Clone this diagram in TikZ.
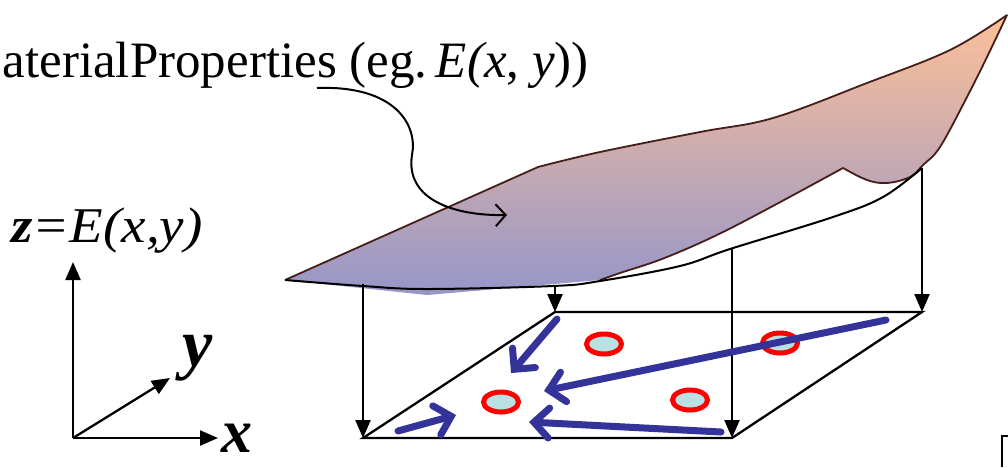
\documentclass[tikz,border=0pt]{standalone}
\usepackage{fontspec}
\setmainfont{Liberation Serif}
\usetikzlibrary{arrows.meta,shapes.geometric}
\definecolor{arrblue}{RGB}{51,51,153}
\definecolor{holefill}{RGB}{185,225,228}
\definecolor{surftop}{RGB}{252,192,152}
\definecolor{surfmid}{RGB}{218,176,182}
\definecolor{surfbot}{RGB}{150,150,200}
\definecolor{edgedark}{RGB}{70,30,25}
\begin{document}
\begin{tikzpicture}[x=1pt,y=-1pt,
  drop/.style={line width=2.3pt,-{Triangle[length=18pt,width=15pt]}},
  axisarrow/.style={line width=2.3pt,-{Triangle[length=18pt,width=15pt]}},
  flow/.style={arrblue,line width=7pt,line cap=round,-{Straight Barb[length=15pt,width=30pt,line cap=round]}},
  hole/.style={ellipse,draw=red,line width=5pt,fill=holefill,minimum width=35pt,minimum height=20pt,inner sep=0pt},
  plate/.style={line width=2.3pt,line join=miter},
  surfedge/.style={edgedark,line width=1.8pt},
  pointer/.style={line width=2pt,-{Straight Barb[length=10pt,width=22pt]}}
]
\useasboundingbox (0,0) rectangle (1008,467);

% surface fill
\shade[top color=surftop, middle color=surfmid, bottom color=surfbot]
  (285,280) -- (538,167)
  -- plot[smooth,tension=0.6] coordinates {(538,167) (600,152) (700,132) (773,118) (867,83) (950,50) (1007,15)}
  -- plot[smooth,tension=0.6] coordinates {(1007,15) (987,57) (967,97) (940,147) (923,165) (910,177) (887,183) (867,180) (843,168)}
  -- plot[smooth,tension=0.6] coordinates {(843,168) (733,227) (667,257) (620,273) (600,280)}
  -- (427,295) -- cycle;
% surface outline
\draw[surfedge,line join=round]
  (285,280) -- (538,167)
  -- plot[smooth,tension=0.6] coordinates {(538,167) (600,152) (700,132) (773,118) (867,83) (950,50) (1007,15)}
  -- plot[smooth,tension=0.6] coordinates {(1007,15) (987,57) (967,97) (940,147) (923,165) (910,177) (887,183) (867,180) (843,168)}
  -- plot[smooth,tension=0.6] coordinates {(843,168) (733,227) (667,257) (620,273) (600,280)};
\draw[line width=2pt] plot[smooth,tension=0.6] coordinates {(285,280) (363,286) (427,289) (553,286) (600,281) (680,266) (730,249) (833,217) (883,197) (922,168)};

% title text and pointer
\node[anchor=base east,inner sep=0pt,font=\fontsize{51}{56}\selectfont] (title) at (589,77)
  {aterialProperties (eg.\,\textit{E(x}, \textit{y}))};
\coordinate (cstart) at (317,88);
\coordinate (ctip) at (507,215);
\draw[pointer] (cstart) .. controls (395,85) and (418,125) .. (412,155)
  .. controls (405,200) and (455,216) .. (ctip);

% plate
\coordinate (p1) at (363,438);
\coordinate (p2) at (732,438);
\coordinate (p3) at (922,312);
\coordinate (p4) at (555,312);
\draw[plate] (p1) -- (p2) -- (p3) -- (p4) -- cycle;

% projection arrows
\coordinate (s1) at (363,284);
\coordinate (s2) at (555,285);
\coordinate (s3) at (732,248);
\coordinate (s4) at (922,168);
\draw[drop] (s1) -- (p1);
\draw[drop] (s2) -- (p4);
\draw[drop] (s3) -- (p2);
\draw[drop] (s4) -- (p3);

% holes
\node[hole] (h1) at (604,344) {};
\node[hole] (h2) at (780,343) {};
\node[hole] (h3) at (501,402) {};
\node[hole] (h4) at (690,400) {};

% flow arrows
\coordinate (a1s) at (557,319);
\coordinate (a1e) at (511,373);
\coordinate (a2s) at (886,320);
\coordinate (a2e) at (544,391);
\coordinate (a3s) at (398,431);
\coordinate (a3e) at (456,415);
\coordinate (a4s) at (721,432);
\coordinate (a4e) at (529,422);
\draw[flow] (a1s) -- (a1e);
\draw[flow] (a2s) -- (a2e);
\draw[flow] (a3s) -- (a3e);
\draw[flow] (a4s) -- (a4e);

% axes
\coordinate (O) at (73,438);
\coordinate (zt) at (73,262);
\coordinate (xt) at (218,438);
\coordinate (yt) at (170,378);
\draw[axisarrow] (O) -- (zt);
\draw[axisarrow] (O) -- (xt);
\draw[axisarrow] (O) -- (yt);
\node[anchor=base west,inner sep=0pt,font=\fontsize{50}{54}\selectfont] (zlabel) at (11,242)
  {\scalebox{1.1}[1]{\textbf{\textit{z}}\textit{=E(x,y)}}};
\node[anchor=base west,inner sep=0pt,font=\fontsize{68}{72}\selectfont] (ylabel) at (182,366) {\textbf{\textit{y}}};
\node[anchor=base west,inner sep=0pt,font=\fontsize{62}{66}\selectfont] (xlabel) at (221,452) {\textbf{\textit{x}}};

% partial box at bottom right
\draw[line width=2.3pt] (1008,436) -- (1002,436) -- (1002,467);
\end{tikzpicture}
\end{document}
